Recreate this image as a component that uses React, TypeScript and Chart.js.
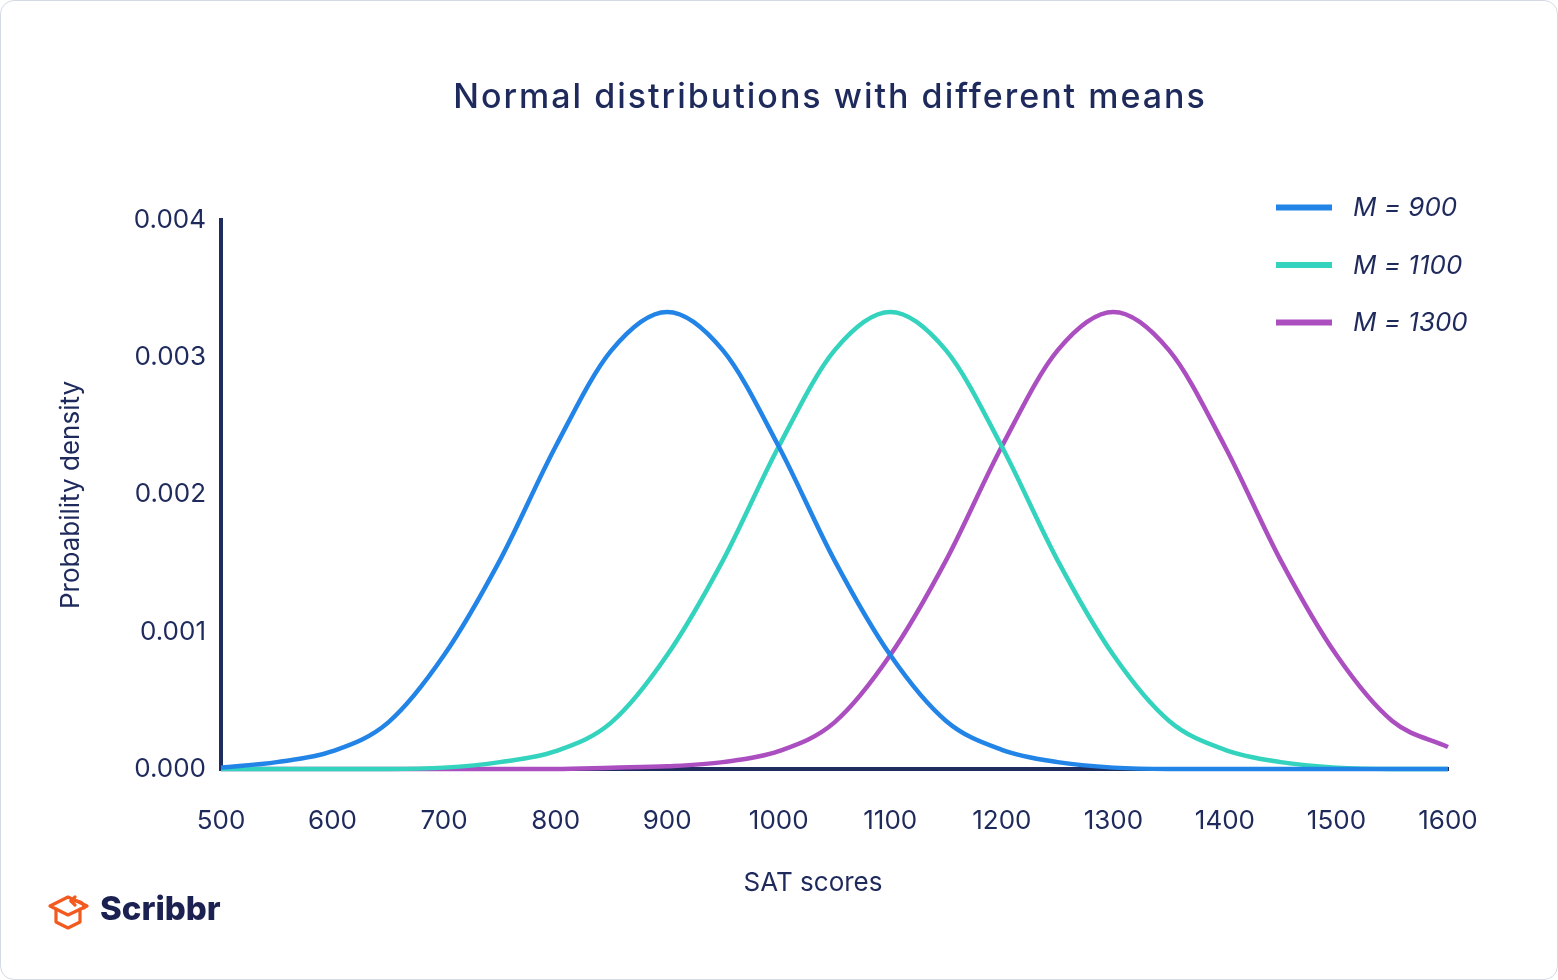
import React, { useEffect, useRef } from "react";
import { Chart, registerables } from "chart.js";

Chart.register(...registerables);

const TITLE = "Normal distributions with different means";
const X_TITLE = "SAT scores";
const Y_TITLE = "Probability density";

const scores = [500, 550, 600, 650, 700, 750, 800, 850, 900, 950, 1000, 1050, 1100, 1150, 1200, 1250, 1300, 1350, 1400, 1450, 1500, 1550, 1600];
const m900 = [0.00001, 0.00005, 0.00013, 0.00034, 0.00083, 0.00152, 0.00235, 0.00305, 0.00333, 0.00305, 0.00235, 0.00152, 0.00083, 0.00035, 0.00014, 0.00005, 0.00001, 0, 0, 0, 0, 0, 0];
const m1100 = [0, 0, 0, 0, 0.00001, 0.00005, 0.00013, 0.00034, 0.00083, 0.00152, 0.00235, 0.00305, 0.00333, 0.00305, 0.00235, 0.00152, 0.00083, 0.00035, 0.00014, 0.00005, 0.00001, 0, 0];
const m1300 = [0, 0, 0, 0, 0, 0, 0, 0.00001, 0.00002, 0.00005, 0.00013, 0.00034, 0.00083, 0.00152, 0.00235, 0.00305, 0.00333, 0.00305, 0.00235, 0.00152, 0.00083, 0.00035, 0.00016];

const seriesLabels = ["M = 900", "M = 1100", "M = 1300"];
const seriesValues = [m900, m1100, m1300];
const seriesColors = ["#2184e6", "#33d3be", "#ab4fc0"];

const X_MIN = 500;
const X_MAX = 1600;
const X_STEP = 100;
const Y_MIN = 0;
const Y_MAX = 0.004;
const Y_STEP = 0.001;

const NAVY = "#1f2a5c";
const AXIS = "#1f2d5e";
const FONT = "Inter, 'Noto Sans', sans-serif";

const overlayPlugin = {
  id: "overlayText",
  afterDraw(chart: any) {
    const ctx = chart.ctx as CanvasRenderingContext2D;
    ctx.save();
    // Title
    ctx.fillStyle = NAVY;
    ctx.font = `500 34px ${FONT}`;
    (ctx as any).letterSpacing = "2px";
    ctx.textAlign = "center";
    ctx.textBaseline = "alphabetic";
    ctx.fillText(TITLE, 830, 108);
    (ctx as any).letterSpacing = "0px";
    // X title
    ctx.font = `400 26px ${FONT}`;
    ctx.fillText(X_TITLE, 813, 891);
    // Y title
    ctx.save();
    ctx.translate(79, 495);
    ctx.rotate(-Math.PI / 2);
    ctx.textAlign = "center";
    ctx.fillText(Y_TITLE, 0, 0);
    ctx.restore();
    // Legend
    const rowsY = [207.5, 265, 322.5];
    chart.data.datasets.forEach((ds: any, i: number) => {
      const y = rowsY[i];
      ctx.strokeStyle = ds.borderColor;
      ctx.lineWidth = 6;
      ctx.lineCap = "butt";
      ctx.beginPath();
      ctx.moveTo(1276, y);
      ctx.lineTo(1332, y);
      ctx.stroke();
      ctx.fillStyle = NAVY;
      ctx.font = `italic 400 26px ${FONT}`;
      ctx.textAlign = "left";
      ctx.textBaseline = "middle";
      ctx.fillText(ds.label, 1353, y + 1);
    });
    ctx.restore();
  },
};

export default function App() {
  const canvasRef = useRef<HTMLCanvasElement | null>(null);

  useEffect(() => {
    document.body.style.margin = "0";
    const canvas = canvasRef.current;
    if (!canvas) return;
    const chart = new Chart(canvas, {
      type: "line",
      data: {
        datasets: seriesLabels.map((label, i) => ({
          label,
          data: scores.map((s, j) => ({ x: s, y: seriesValues[i][j] })),
          borderColor: seriesColors[i],
          backgroundColor: seriesColors[i],
          borderWidth: 4.5,
          pointRadius: 0,
          fill: false,
          cubicInterpolationMode: "monotone" as const,
          clip: false as any,
        })),
      },
      options: {
        animation: false,
        responsive: false,
        maintainAspectRatio: false,
        devicePixelRatio: 1,
        layout: { padding: { left: 0, right: 110, top: 220, bottom: 0 } },
        plugins: {
          legend: { display: false },
          title: { display: false },
          tooltip: { enabled: false },
        },
        scales: {
          x: {
            type: "linear",
            min: X_MIN,
            max: X_MAX,
            ticks: {
              stepSize: X_STEP,
              color: NAVY,
              font: { family: FONT, size: 26 },
              padding: 37,
              maxRotation: 0,
              autoSkip: false,
              callback: (v: any) => String(Math.round(Number(v))),
            },
            grid: { display: false, drawTicks: false },
            border: { display: true, color: AXIS, width: 4 },
            afterFit: (s: any) => {
              s.height = 211;
            },
          },
          y: {
            type: "linear",
            min: Y_MIN,
            max: Y_MAX,
            ticks: {
              stepSize: Y_STEP,
              color: NAVY,
              font: { family: FONT, size: 26 },
              padding: 15,
              callback: (v: any) => Number(v).toFixed(3),
            },
            grid: { display: false, drawTicks: false },
            border: { display: true, color: AXIS, width: 4 },
            afterFit: (s: any) => {
              s.width = 221;
            },
          },
        },
      },
      plugins: [overlayPlugin],
    });
    return () => chart.destroy();
  }, []);

  return (
    <div style={{ position: "relative", width: 1558, height: 980, background: "#fff", overflow: "hidden" }}>
      <div
        style={{
          position: "absolute",
          left: 0,
          top: 0,
          width: 1558,
          height: 980,
          boxSizing: "border-box",
          border: "1.5px solid #d5d9e4",
          borderRadius: 14,
          pointerEvents: "none",
        }}
      />
      <canvas ref={canvasRef} width={1558} height={980} style={{ position: "absolute", left: 0, top: 0, width: 1558, height: 980 }} />
      <svg width={220} height={60} style={{ position: "absolute", left: 40, top: 880 }}>
        <g fill="none" stroke="#f25a1f" strokeWidth={3.2} strokeLinejoin="round" strokeLinecap="round">
          <path d="M10 26 L28 17 L47 26 L28 35 Z" />
          <path d="M16 29 L16 42 L28 48 L40 42 L40 29" />
          <path d="M44 28 C44 22 38 20 31 21" />
          <path d="M31 21 L35 17 M31 21 L35 25" />
        </g>
        <text x={60} y={40} fill="#1b2150" style={{ font: `800 33px ${FONT}` }}>
          Scribbr
        </text>
      </svg>
    </div>
  );
}
